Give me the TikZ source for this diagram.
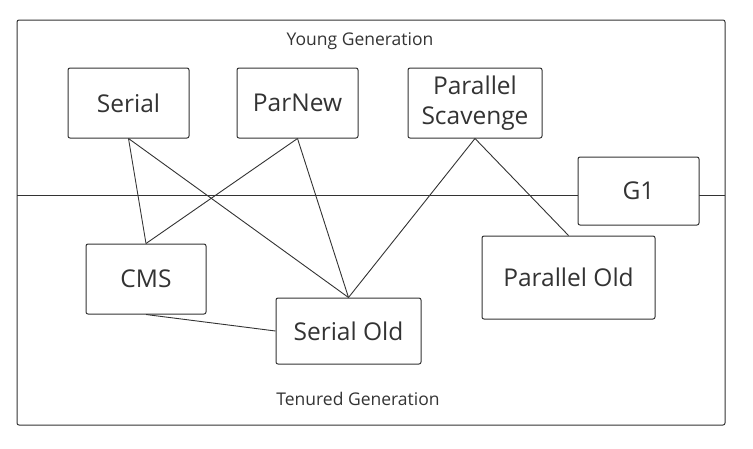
\documentclass[tikz,border=0pt]{standalone}
\usepackage{fontspec}
\setmainfont{Open Sans}
\definecolor{ink}{HTML}{333333}
\begin{document}
\begin{tikzpicture}[x=1pt,y=-1pt,
  gcbox/.style={draw=ink, line width=1pt, rounded corners=2pt, fill=white, text=ink,
    inner sep=0pt, align=center, font=\fontsize{24.5}{30}\selectfont},
  genlabel/.style={text=ink, inner sep=0pt, font=\fontsize{17.5}{21}\selectfont},
  link/.style={draw=ink, line width=0.9pt}]
\useasboundingbox (0,0) rectangle (753,448);
\node[draw=ink, line width=1pt, rounded corners=2pt, minimum width=708pt, minimum height=405pt, inner sep=0pt] (outer) at (371,222.5) {};
\coordinate (hl) at (17,195);
\coordinate (hr) at (725,195);
\draw[link] (hl) -- (hr);
\node[genlabel] (young) at (360,41) {Young Generation};
\node[genlabel] (tenured) at (358,399) {Tenured Generation};
\node[gcbox, minimum width=121pt, minimum height=70pt] (serial) at (128.5,103) {Serial};
\node[gcbox, minimum width=121pt, minimum height=70pt] (parnew) at (297.5,103) {ParNew};
\node[gcbox, minimum width=134pt, minimum height=70pt] (ps) at (475,103) {Parallel\\Scavenge};
\node[gcbox, minimum width=121pt, minimum height=68pt] (g1) at (638.5,191) {G1};
\node[gcbox, minimum width=173pt, minimum height=83pt] (po) at (568.5,277.5) {Parallel Old};
\node[gcbox, minimum width=120pt, minimum height=70pt] (cms) at (146,279) {CMS};
\node[gcbox, minimum width=145pt, minimum height=66pt] (so) at (348.5,331) {Serial Old};
\draw[link] (serial.south) -- (cms.north);
\draw[link] (serial.south) -- (so.north);
\draw[link] (parnew.south) -- (cms.north);
\draw[link] (parnew.south) -- (so.north);
\draw[link] (ps.south) -- (so.north);
\draw[link] (ps.south) -- (po.north);
\draw[link] (cms.south) -- (so.west);
\end{tikzpicture}
\end{document}
